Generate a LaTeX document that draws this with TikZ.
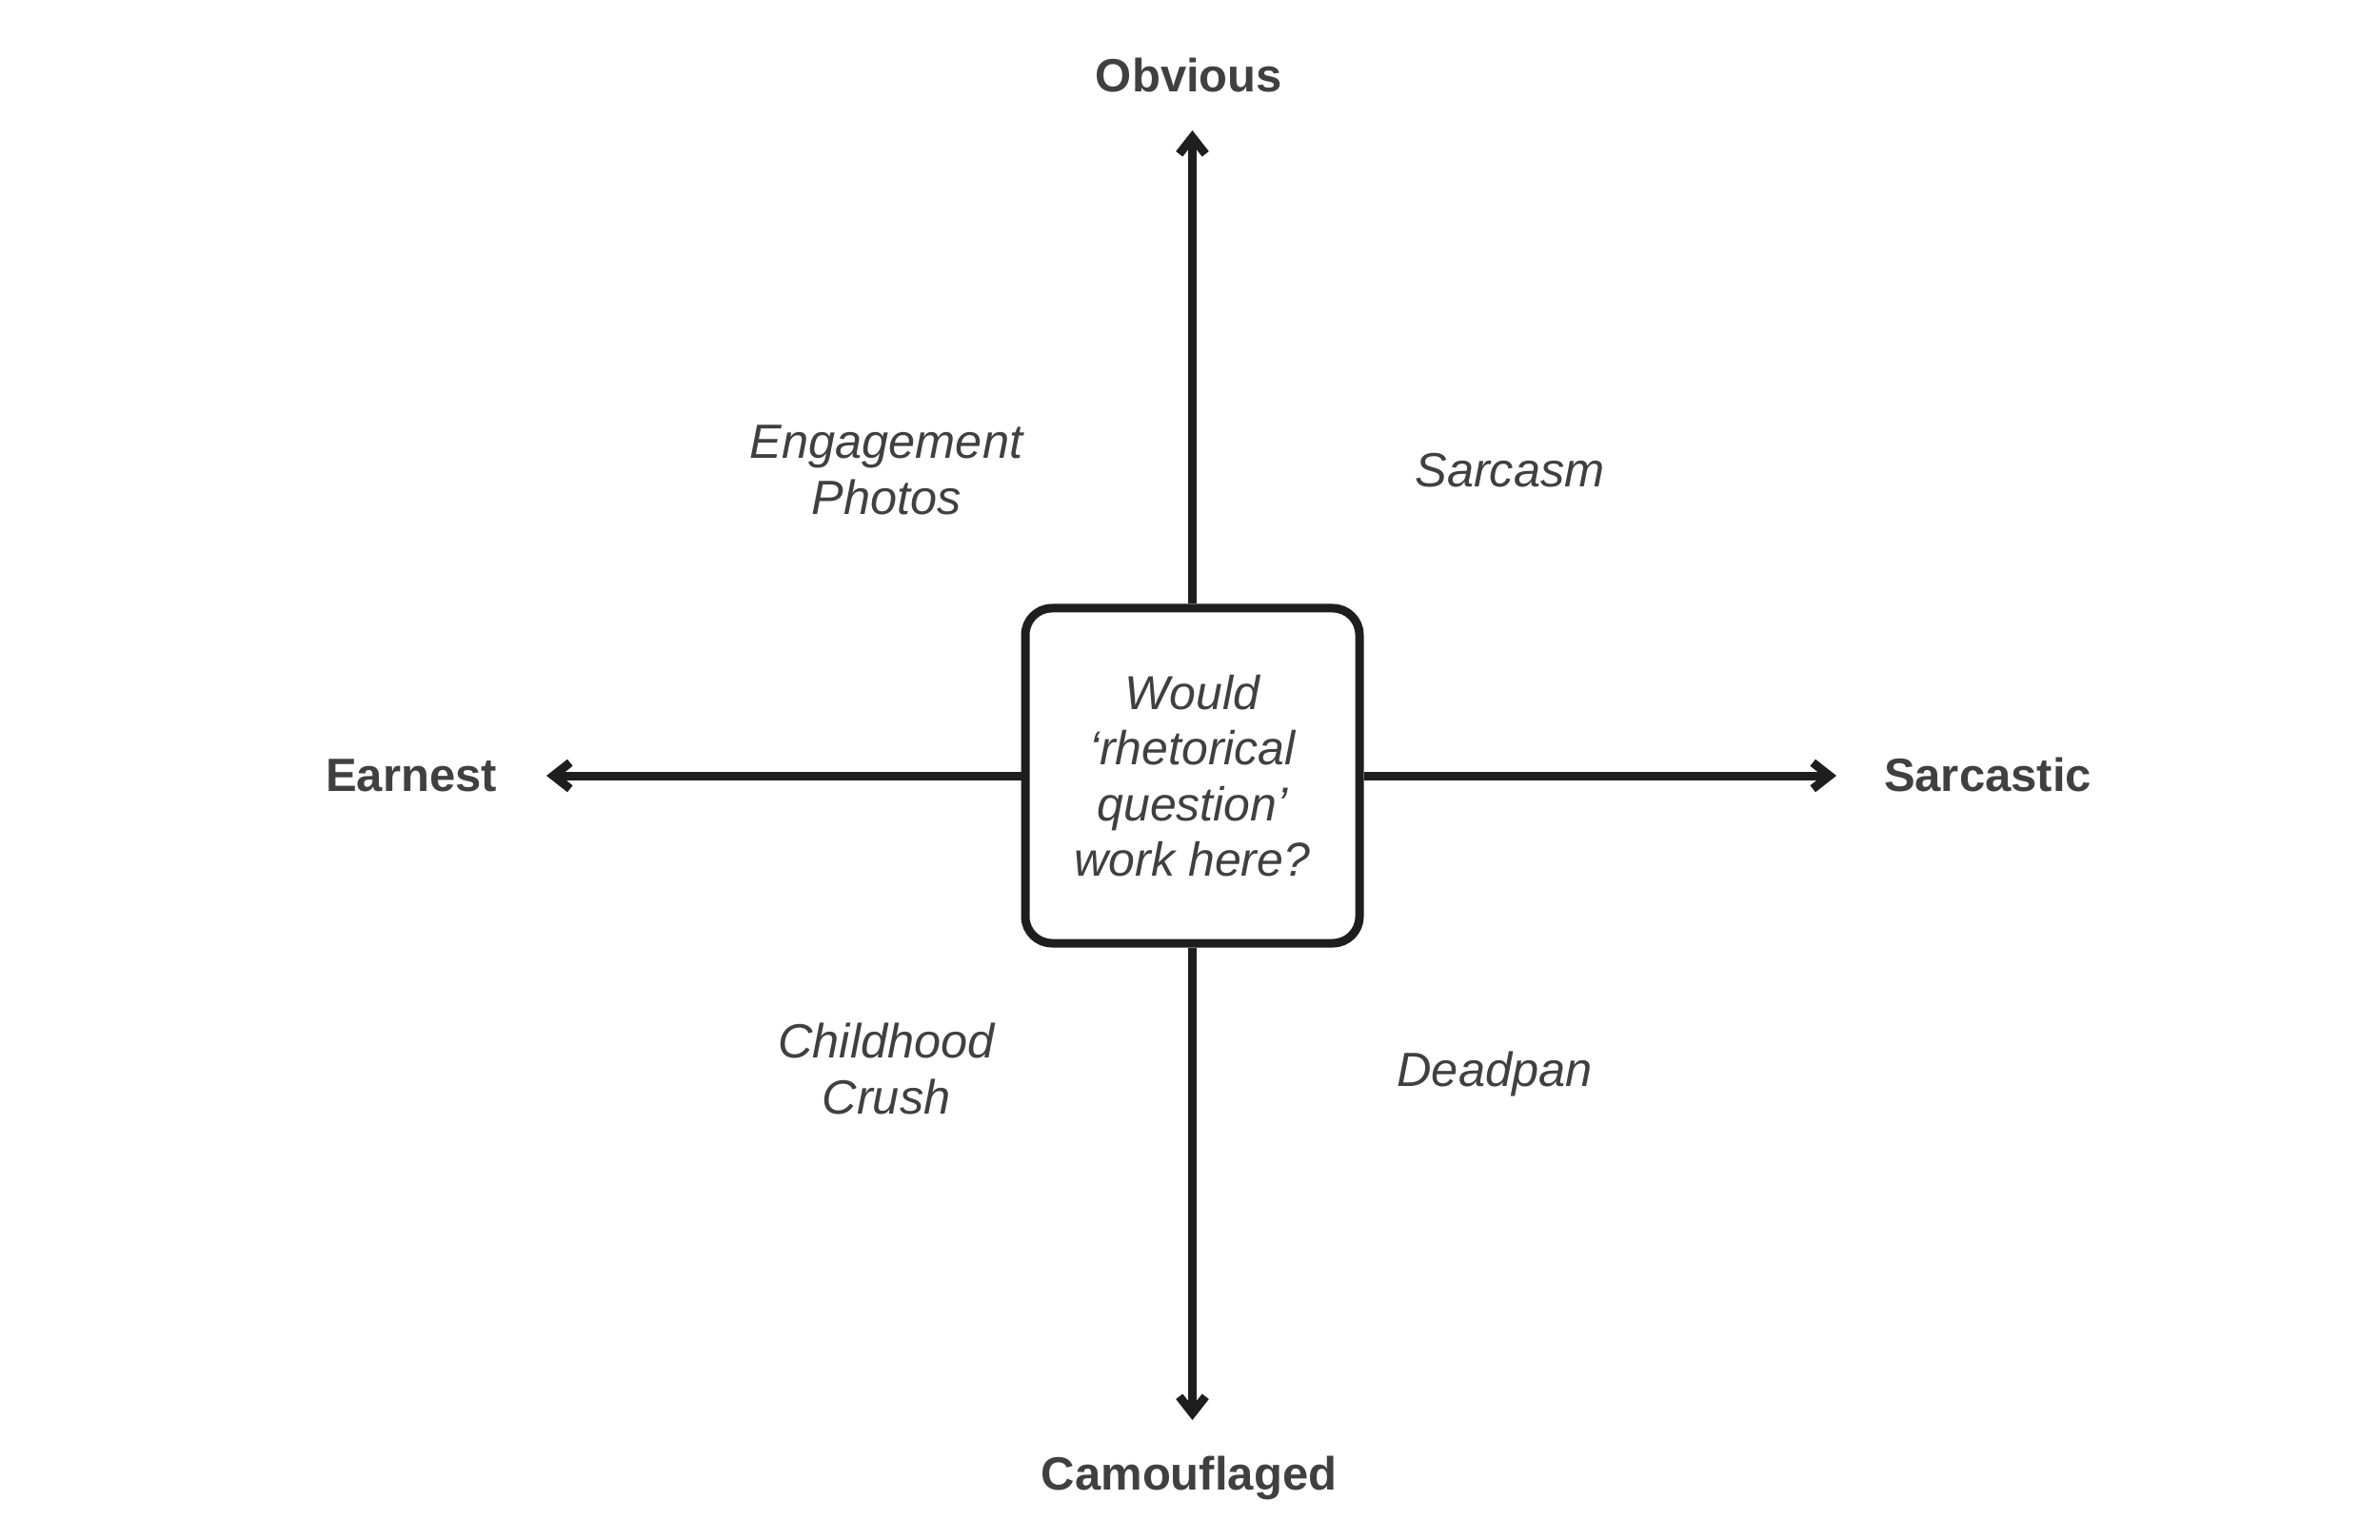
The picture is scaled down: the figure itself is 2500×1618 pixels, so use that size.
\documentclass[tikz,border=0pt]{standalone}
\usepackage{fontspec}
\setmainfont{Liberation Sans}
\usetikzlibrary{arrows.meta}
\definecolor{ink}{HTML}{1E1E1E}
\definecolor{txt}{HTML}{404040}
\begin{document}
\begin{tikzpicture}[x=0.4pt,y=-0.4pt,
  axis/.style={draw=ink, line width=3.6pt, -{Straight Barb[length=7pt,width=11pt]}},
  qbox/.style={draw=ink, fill=white, line width=3.6pt, rounded corners=11.2pt, minimum width=140.4pt, minimum height=140.8pt, inner sep=0pt, align=center, text=txt, font=\fontsize{20pt}{23.4pt}\selectfont\itshape},
  pole/.style={text=txt, font=\fontsize{19.6pt}{23.4pt}\selectfont\bfseries, anchor=base, inner sep=0pt},
  quad/.style={text=txt, font=\fontsize{20.2pt}{23.4pt}\selectfont\itshape, align=center, inner sep=0pt}]
\useasboundingbox[fill=white] (0,0) rectangle (2500,1618);
\node[qbox] (q) at (1252.5,815) {Would\\‘rhetorical\\question’\\work here?};
\coordinate (tipN) at (1252.5,137);
\coordinate (tipS) at (1252.5,1492);
\coordinate (tipW) at (574,815);
\coordinate (tipE) at (1929,815);
\draw[axis] (q.north) -- (tipN);
\draw[axis] (q.south) -- (tipS);
\draw[axis] (q.west) -- (tipW);
\draw[axis] (q.east) -- (tipE);
\node[pole] (obv) at (1249,97) {Obvious};
\node[pole] (cam) at (1249,1565) {Camouflaged};
\node[pole] (ear) at (432,831) {Earnest};
\node[pole] (sar) at (2088,831) {Sarcastic};
\node[quad] (eng) at (931,494) {Engagement\\Photos};
\node[quad] (chi) at (931,1123) {Childhood\\Crush};
\node[quad, anchor=base] (sm) at (1586,511) {Sarcasm};
\node[quad, anchor=base] (dp) at (1570,1141) {Deadpan};
\end{tikzpicture}
\end{document}
